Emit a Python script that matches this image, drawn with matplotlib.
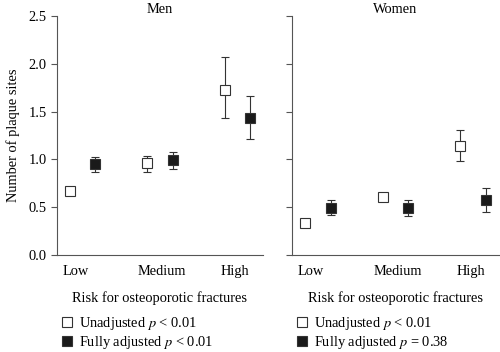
import numpy as np
import matplotlib
matplotlib.use("Agg")
import matplotlib.pyplot as plt
from matplotlib.lines import Line2D

plt.rcParams['font.family'] = 'serif'
plt.rcParams['font.serif'] = ['Liberation Serif']
plt.rcParams['mathtext.fontset'] = 'stix'

categories = ["Low", "Medium", "High"]

men_unadj = [0.67, 0.96, 1.73]
men_unadj_lo = [0.65, 0.87, 1.43]
men_unadj_hi = [0.69, 1.04, 2.07]
men_adj = [0.95, 0.99, 1.43]
men_adj_lo = [0.87, 0.90, 1.21]
men_adj_hi = [1.03, 1.08, 1.66]

women_unadj = [0.33, 0.61, 1.14]
women_unadj_lo = [0.31, 0.59, 0.98]
women_unadj_hi = [0.35, 0.65, 1.31]
women_adj = [0.49, 0.49, 0.57]
women_adj_lo = [0.42, 0.41, 0.45]
women_adj_hi = [0.57, 0.57, 0.70]

men_legend = ["Unadjusted $p$ < 0.01", "Fully adjusted $p$ < 0.01"]
women_legend = ["Unadjusted $p$ < 0.01", "Fully adjusted $p$ = 0.38"]

FS = 10.4

fig = plt.figure(figsize=(5, 3.52), dpi=100)
ax1 = fig.add_axes([0.114, 0.2756, 0.412, 0.679])
ax2 = fig.add_axes([0.584, 0.2756, 0.414, 0.679])


def draw(ax, title, unadj, ulo, uhi, adj, alo, ahi, labels, lab_x):
    x = np.arange(len(categories))
    off = 0.165
    for xs, v, lo, hi, fc in [(x - off, unadj, ulo, uhi, 'white'),
                              (x + off, adj, alo, ahi, '#1a1a1a')]:
        v = np.array(v)
        err = [v - np.array(lo), np.array(hi) - v]
        ax.errorbar(xs, v, yerr=err, fmt='none', ecolor='#333333',
                    elinewidth=0.8, capsize=3, capthick=0.8, zorder=2)
        ax.plot(xs, v, 's', ms=7.5, mfc=fc, mec='#333333', mew=0.8, zorder=3)
    ax.set_xlim(-0.33, 2.33)
    ax.set_ylim(0, 2.5)
    ax.set_yticks(np.arange(0, 2.51, 0.5))
    ax.set_xticks(x + np.array([-0.09, 0.03, -0.03]))
    ax.set_xticklabels(categories, fontsize=FS)
    ax.tick_params(axis='x', length=0, pad=7)
    ax.tick_params(axis='y', length=4, width=0.8, direction='out',
                   labelsize=FS, color='#555555')
    for s in ['top', 'right']:
        ax.spines[s].set_visible(False)
    for s in ['left', 'bottom']:
        ax.spines[s].set_color('#555555')
        ax.spines[s].set_linewidth(0.8)
    ax.set_title(title, fontsize=FS, pad=1)
    ax.set_xlabel("Risk for osteoporotic fractures", fontsize=FS, labelpad=10)
    handles = [Line2D([], [], ls='none', marker='s', ms=7.5, mfc='white',
                      mec='#333333', mew=0.8),
               Line2D([], [], ls='none', marker='s', ms=7.5, mfc='#1a1a1a',
                      mec='#333333', mew=0.8)]
    fig.legend(handles, labels, loc='upper left', bbox_to_anchor=(lab_x, 0.106),
               frameon=False, fontsize=FS, handlelength=0.8, handletextpad=0.45,
               labelspacing=0.15, borderaxespad=0, borderpad=0)


draw(ax1, "Men", men_unadj, men_unadj_lo, men_unadj_hi,
     men_adj, men_adj_lo, men_adj_hi, men_legend, 0.122)
draw(ax2, "Women", women_unadj, women_unadj_lo, women_unadj_hi,
     women_adj, women_adj_lo, women_adj_hi, women_legend, 0.592)
ax1.set_yticklabels([f"{t:.1f}" for t in np.arange(0, 2.51, 0.5)])
ax2.set_yticklabels([])
ax1.set_ylabel("Number of plaque sites", fontsize=FS, labelpad=6)

fig.savefig("out.png", dpi=100)
